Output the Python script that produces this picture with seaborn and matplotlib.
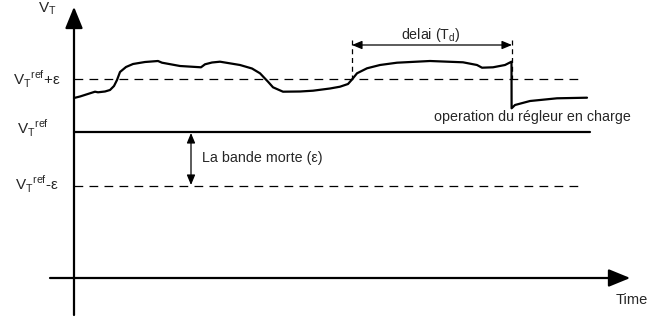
import numpy as np
import pandas as pd
import matplotlib
matplotlib.use("Agg")
import matplotlib.pyplot as plt
import seaborn as sns

# ── data (schematic coordinates, pixel-like units, y grows downward) ──
curve_x = [74, 80, 95, 98, 105, 110, 114, 117, 120, 126, 133, 145, 158, 162, 180, 201,
           205, 212, 220, 240, 252, 260, 268, 273, 283, 300, 313, 330, 340, 348, 352,
           357, 367, 380, 397, 430, 463, 477, 482, 493, 505, 511.5, 511.6, 515, 530,
           557, 587]
curve_y = [98, 96.5, 91.7, 92.3, 91.5, 90, 86, 80, 72, 67, 64, 62, 61, 62.7, 66, 67.3,
           64.3, 62.5, 61.7, 65, 68.5, 73.3, 81.7, 87.3, 91.7, 91.5, 90.7, 88.5, 86.7,
           84, 79.5, 73.3, 68.3, 65, 62.7, 61, 62.3, 65, 67.7, 67.3, 65, 61.7, 108.3,
           105, 101, 98.3, 97.7]

ref_y = 132
upper_y = 79
lower_y = 186
delay_x = [352, 512]
band_x = 191

sup = "V$_\\mathregular{T}$$^\\mathregular{ref}$"
labels = [sup + "+ε", sup, sup + "-ε"]

sns.set_style("white")
plt.rcParams["font.family"] = ["Liberation Sans", "DejaVu Sans"]
plt.rcParams["mathtext.fontset"] = "custom"
plt.rcParams["mathtext.rm"] = "Liberation Sans"

fig = plt.figure(figsize=(6.48, 3.22), dpi=100)
ax = fig.add_axes([0, 0, 1, 1])
ax.set_xlim(0, 648)
ax.set_ylim(322, 0)
ax.axis("off")

# reference lines
df_h = pd.DataFrame({"x": [74, 590], "y": [ref_y, ref_y]})
sns.lineplot(data=df_h, x="x", y="y", color="black", lw=1.6, ax=ax,
             sort=False, estimator=None)
for yy in (upper_y, lower_y):
    ax.plot([74, 582], [yy, yy], color="black", lw=0.9, dashes=(7, 5))

# voltage curve
df_c = pd.DataFrame({"x": curve_x, "y": curve_y})
sns.lineplot(data=df_c, x="x", y="y", color="black", lw=1.6, ax=ax,
             sort=False, estimator=None)

# axes with arrows
ax.plot([74, 74], [315, 15], color="black", lw=1.6)
ax.annotate("", xy=(74, 4), xytext=(74, 20),
            arrowprops=dict(arrowstyle="-|>,head_length=1.1,head_width=0.45",
                            color="black", lw=1.6, mutation_scale=12))
ax.plot([50, 622], [278, 278], color="black", lw=1.6)
ax.annotate("", xy=(633, 278), xytext=(618, 278),
            arrowprops=dict(arrowstyle="-|>,head_length=1.1,head_width=0.45",
                            color="black", lw=1.6, mutation_scale=12))

# delay markers
for xx in delay_x:
    ax.plot([xx, xx], [40, upper_y], color="black", lw=0.9, dashes=(4, 3))
ax.annotate("", xy=(delay_x[0], 45), xytext=(delay_x[1], 45),
            arrowprops=dict(arrowstyle="<|-|>,head_length=0.6,head_width=0.25",
                            color="black", lw=0.9, mutation_scale=10, shrinkA=0, shrinkB=0))
ax.text(431, 35, "delai (T$_\\mathregular{d}$)", ha="center", va="center", fontsize=10.3)

# dead band
ax.annotate("", xy=(band_x, ref_y + 1), xytext=(band_x, lower_y - 1),
            arrowprops=dict(arrowstyle="<|-|>,head_length=0.6,head_width=0.25",
                            color="black", lw=0.9, mutation_scale=10, shrinkA=0, shrinkB=0))
ax.text(202, 158, "La bande morte (ε)", ha="left", va="center", fontsize=10.3)

# labels
ax.text(47, 9, "V$_\\mathregular{T}$", ha="center", va="center", fontsize=11)
ax.text(37, 79, labels[0], ha="center", va="center", fontsize=11)
ax.text(33, 128, labels[1], ha="center", va="center", fontsize=11)
ax.text(37, 184, labels[2], ha="center", va="center", fontsize=11)
ax.text(632, 300, "Time", ha="center", va="center", fontsize=10.5)
ax.text(532, 117, "operation du régleur en charge", ha="center", va="center", fontsize=10.3)

fig.savefig("out.png", dpi=100)
